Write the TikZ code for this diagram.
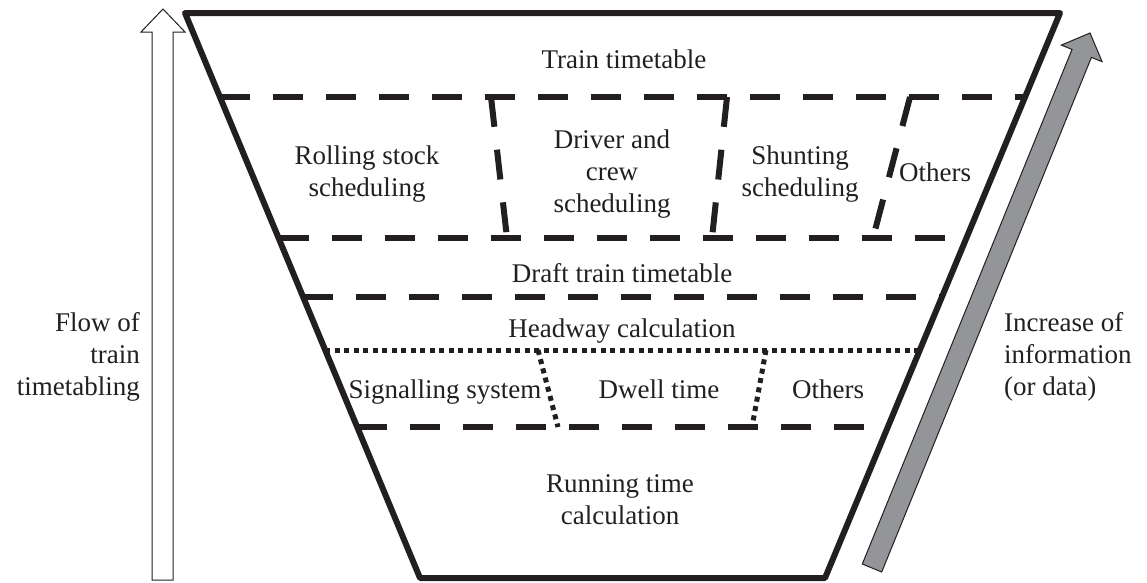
\documentclass[tikz,border=0pt]{standalone}
\usepackage{fontspec}
\setmainfont{Liberation Serif}
\definecolor{ink}{HTML}{231F20}
\definecolor{arrowgray}{HTML}{939598}
\begin{document}
\begin{tikzpicture}[x=1pt,y=-1pt,
  outline/.style={draw=ink, line width=6pt, line join=round},
  dashline/.style={draw=ink, line width=6pt, dash pattern=on 30pt off 23pt},
  dotline/.style={draw=ink, line width=5pt, dash pattern=on 5pt off 4.5pt},
  lbl/.style={font=\fontsize{27}{32}\selectfont, align=center, inner sep=0pt, text=ink},
  bigarrow/.style={draw=ink, line width=1pt, line join=miter}]
\useasboundingbox (0,0) rectangle (1147,582);

% trapezoid corners
\coordinate (TL) at (185,13);
\coordinate (TR) at (1060,13);
\coordinate (BR) at (825,578);
\coordinate (BL) at (420,578);

% band boundaries (points on the two slanted edges)
\coordinate (L1) at (219.9,97);  \coordinate (R1) at (1025.1,97);
\coordinate (L2) at (278.6,238); \coordinate (R2) at (966.4,238);
\coordinate (L3) at (303.1,297); \coordinate (R3) at (941.9,297);
\coordinate (L4) at (325.2,350); \coordinate (R4) at (919.8,350);
\coordinate (L5) at (357.2,427); \coordinate (R5) at (887.8,427);

\draw[dashline] (L1) -- (R1);
\draw[dashline] (L2) -- (R2);
\draw[dashline] (L3) -- (R3);
\draw[dotline]  (L4) -- (R4);
\draw[dashline] (L5) -- (R5);

% slanted separators in scheduling band
\coordinate (A1) at (491,97);  \coordinate (A2) at (507,238);
\coordinate (B1) at (727,97);  \coordinate (B2) at (712,238);
\coordinate (C1) at (910,97);  \coordinate (C2) at (873,238);
\draw[dashline] (A1) -- (A2);
\draw[dashline] (B1) -- (B2);
\draw[dashline] (C1) -- (C2);

% dotted separators in headway band
\coordinate (D1) at (538,350); \coordinate (D2) at (558,427);
\coordinate (E1) at (766,350); \coordinate (E2) at (752,427);
\draw[dotline] (D1) -- (D2);
\draw[dotline] (E1) -- (E2);

% outline of funnel
\draw[outline] (TL) -- (TR) -- (BR) -- (BL) -- cycle;

% left arrow (white)
\draw[bigarrow, fill=white] (152,580) -- (173,580) -- (173,32) -- (185,32) -- (163,9) -- (141,32) -- (152,32) -- cycle;

% right arrow (gray)
\draw[bigarrow, fill=arrowgray] (862.3,564) -- (881.7,572) -- (1091.4,57.4) -- (1102.1,61.7) -- (1090,33) -- (1061.3,45.1) -- (1072,49.4) -- cycle;

% labels
\node[lbl, anchor=base] (tt) at (624,68) {Train timetable};
\node[lbl] (rs) at (367,174) {Rolling stock\\scheduling};
\node[lbl] (dc) at (612,174) {Driver and\\crew\\scheduling};
\node[lbl] (sh) at (800,174) {Shunting\\scheduling};
\node[lbl, anchor=base] (ot1) at (935,181) {Others};
\node[lbl, anchor=base] (dt) at (622,282) {Draft train timetable};
\node[lbl, anchor=base] (hw) at (622,337) {Headway calculation};
\node[lbl, anchor=base] (ss) at (445,398) {Signalling system};
\node[lbl, anchor=base] (dw) at (659,398) {Dwell time};
\node[lbl, anchor=base] (ot2) at (828,398) {Others};
\node[lbl] (rt) at (620,500) {Running time\\calculation};
\node[lbl, align=right, anchor=east] (fl) at (140,357) {Flow of\\train\\timetabling};
\node[lbl, align=left, anchor=west] (inc) at (1004,357) {Increase of\\information\\(or data)};
\end{tikzpicture}
\end{document}
